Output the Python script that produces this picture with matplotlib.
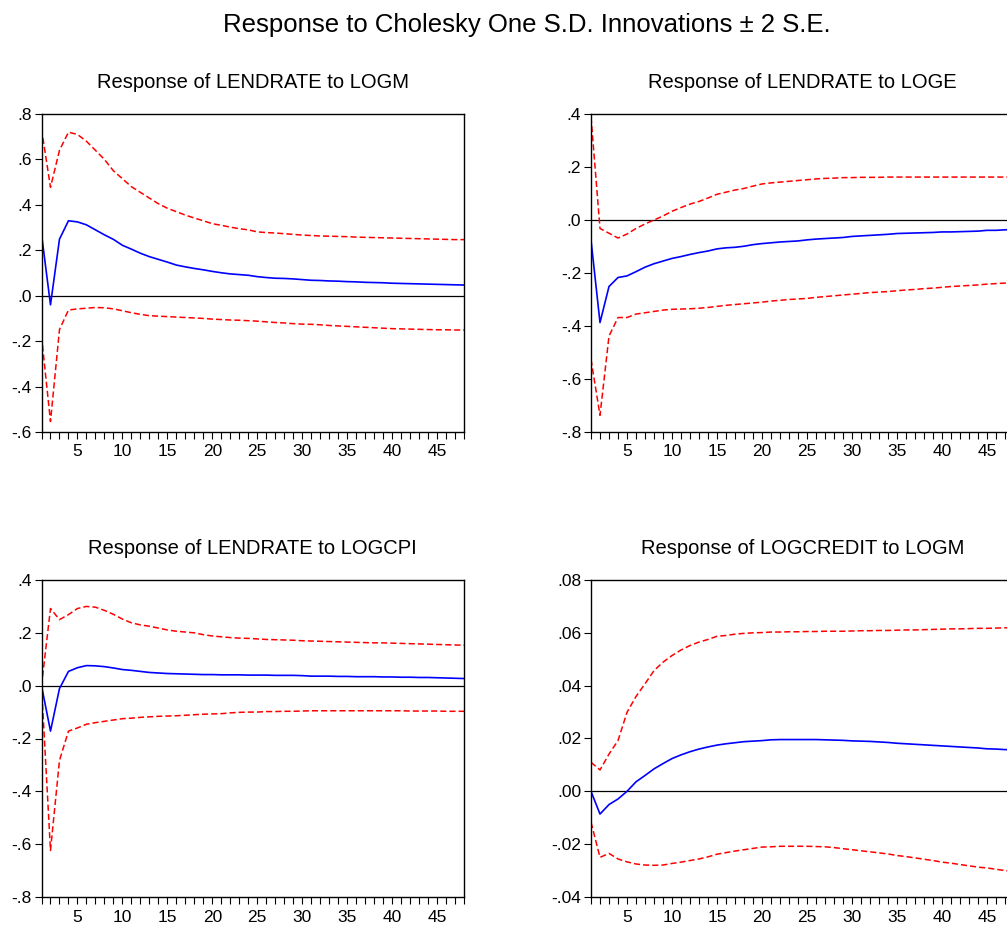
import numpy as np
import matplotlib
matplotlib.use("Agg")
import matplotlib.pyplot as plt
from matplotlib.ticker import FuncFormatter, MultipleLocator

plt.rcParams['font.family'] = ['Liberation Sans', 'DejaVu Sans']

periods = np.arange(1, 49)

# Response of LENDRATE to LOGM
m_resp = [0.271, -0.04, 0.249, 0.33, 0.325, 0.312, 0.29, 0.268, 0.248, 0.222,
          0.205, 0.187, 0.172, 0.16, 0.148, 0.135, 0.127, 0.12, 0.114, 0.107,
          0.101, 0.096, 0.093, 0.09, 0.084, 0.08, 0.077, 0.076, 0.074, 0.071,
          0.068, 0.067, 0.065, 0.064, 0.062, 0.061, 0.059, 0.058, 0.057, 0.055,
          0.054, 0.053, 0.052, 0.051, 0.05, 0.049, 0.048, 0.047]
m_up = [0.735, 0.477, 0.64, 0.72, 0.71, 0.68, 0.64, 0.6, 0.55, 0.515,
        0.48, 0.455, 0.43, 0.405, 0.385, 0.37, 0.355, 0.342, 0.33, 0.317,
        0.31, 0.302, 0.295, 0.29, 0.281, 0.278, 0.276, 0.273, 0.27, 0.267,
        0.265, 0.263, 0.262, 0.261, 0.26, 0.258, 0.257, 0.256, 0.255, 0.254,
        0.253, 0.252, 0.251, 0.25, 0.249, 0.248, 0.247, 0.247]
m_lo = [-0.178, -0.554, -0.149, -0.063, -0.058, -0.055, -0.052, -0.053, -0.058, -0.066,
        -0.075, -0.082, -0.088, -0.09, -0.092, -0.094, -0.096, -0.098, -0.1, -0.103,
        -0.105, -0.107, -0.108, -0.11, -0.112, -0.115, -0.118, -0.12, -0.123, -0.125,
        -0.126, -0.128, -0.131, -0.133, -0.135, -0.137, -0.139, -0.141, -0.143, -0.145,
        -0.146, -0.147, -0.148, -0.149, -0.15, -0.15, -0.151, -0.151]

# Response of LENDRATE to LOGE
e_resp = [-0.076, -0.387, -0.251, -0.217, -0.211, -0.195, -0.178, -0.165, -0.155, -0.145,
          -0.138, -0.13, -0.123, -0.117, -0.109, -0.105, -0.103, -0.099, -0.093, -0.089,
          -0.086, -0.083, -0.081, -0.079, -0.075, -0.072, -0.07, -0.068, -0.066, -0.062,
          -0.06, -0.058, -0.056, -0.054, -0.051, -0.05, -0.049, -0.048, -0.047, -0.045,
          -0.045, -0.044, -0.043, -0.042, -0.039, -0.039, -0.037, -0.036]
e_up = [0.389, -0.032, -0.05, -0.068, -0.053, -0.032, -0.015, 0.0, 0.015, 0.033,
        0.047, 0.06, 0.07, 0.083, 0.097, 0.105, 0.113, 0.119, 0.128, 0.136,
        0.14, 0.143, 0.146, 0.149, 0.152, 0.155, 0.157, 0.158, 0.16, 0.16,
        0.161, 0.161, 0.161, 0.162, 0.162, 0.162, 0.162, 0.162, 0.162, 0.162,
        0.162, 0.162, 0.162, 0.162, 0.162, 0.162, 0.162, 0.162]
e_lo = [-0.526, -0.737, -0.438, -0.368, -0.368, -0.355, -0.35, -0.345, -0.34, -0.337,
        -0.336, -0.335, -0.333, -0.33, -0.326, -0.322, -0.319, -0.316, -0.313, -0.31,
        -0.306, -0.303, -0.3, -0.298, -0.296, -0.292, -0.289, -0.286, -0.283, -0.28,
        -0.277, -0.274, -0.272, -0.27, -0.267, -0.264, -0.262, -0.259, -0.257, -0.254,
        -0.251, -0.249, -0.247, -0.245, -0.242, -0.24, -0.238, -0.236]

# Response of LENDRATE to LOGCPI
c_resp = [0.0, -0.172, -0.011, 0.054, 0.068, 0.076, 0.075, 0.072, 0.067, 0.061,
          0.058, 0.054, 0.05, 0.048, 0.046, 0.045, 0.044, 0.043, 0.042, 0.042,
          0.041, 0.041, 0.041, 0.04, 0.04, 0.04, 0.039, 0.039, 0.039, 0.038,
          0.036, 0.036, 0.036, 0.035, 0.035, 0.034, 0.034, 0.034, 0.033, 0.033,
          0.032, 0.032, 0.031, 0.031, 0.03, 0.029, 0.028, 0.027]
c_up = [0.0, 0.292, 0.25, 0.269, 0.292, 0.3, 0.297, 0.285, 0.27, 0.252,
        0.238, 0.23, 0.225, 0.218, 0.211, 0.206, 0.203, 0.2, 0.193, 0.188,
        0.185, 0.182, 0.18, 0.179, 0.177, 0.175, 0.174, 0.173, 0.172, 0.17,
        0.169, 0.168, 0.167, 0.166, 0.165, 0.164, 0.163, 0.162, 0.162, 0.161,
        0.16, 0.159, 0.158, 0.157, 0.156, 0.155, 0.154, 0.153]
c_lo = [0.0, -0.624, -0.283, -0.172, -0.16, -0.146, -0.14, -0.135, -0.13, -0.125,
        -0.123, -0.12, -0.118, -0.116, -0.115, -0.114, -0.112, -0.11, -0.108, -0.107,
        -0.106, -0.103, -0.101, -0.1, -0.1, -0.098, -0.098, -0.097, -0.097, -0.096,
        -0.095, -0.095, -0.095, -0.095, -0.095, -0.095, -0.095, -0.095, -0.095, -0.095,
        -0.095, -0.096, -0.096, -0.096, -0.096, -0.097, -0.097, -0.097]

# Response of LOGCREDIT to LOGM
cr_resp = [0.0, -0.0086, -0.005, -0.0029, 0.0, 0.0036, 0.006, 0.0085, 0.0105, 0.0124,
           0.0138, 0.015, 0.016, 0.0168, 0.0175, 0.018, 0.0184, 0.0188, 0.019, 0.0192,
           0.0195, 0.0196, 0.0196, 0.0196, 0.0196, 0.0196, 0.0195, 0.0194, 0.0193, 0.0191,
           0.019, 0.0189, 0.0187, 0.0185, 0.0182, 0.018, 0.0178, 0.0176, 0.0174, 0.0172,
           0.017, 0.0168, 0.0166, 0.0164, 0.0161, 0.016, 0.0158, 0.0157]
cr_up = [0.011, 0.0081, 0.0141, 0.0192, 0.0299, 0.0359, 0.0407, 0.0457, 0.0489, 0.0514,
         0.0535, 0.0552, 0.0565, 0.0575, 0.0587, 0.059, 0.0595, 0.0598, 0.06, 0.0601,
         0.0603, 0.0603, 0.0604, 0.0604, 0.0605, 0.0605, 0.0606, 0.0606, 0.0606, 0.0607,
         0.0608, 0.0608, 0.0609, 0.0609, 0.061, 0.0611, 0.0611, 0.0612, 0.0613, 0.0614,
         0.0615, 0.0615, 0.0616, 0.0617, 0.0617, 0.0618, 0.0619, 0.062]
cr_lo = [-0.0117, -0.025, -0.0235, -0.0256, -0.0267, -0.0275, -0.0279, -0.028, -0.0279, -0.0273,
         -0.0268, -0.0262, -0.0256, -0.0248, -0.0238, -0.0232, -0.0226, -0.0221, -0.0216, -0.0211,
         -0.021, -0.0208, -0.0208, -0.0208, -0.0208, -0.0209, -0.021, -0.0213, -0.0217, -0.0221,
         -0.0225, -0.0229, -0.0233, -0.0237, -0.0243, -0.0247, -0.0252, -0.0257, -0.0262, -0.0268,
         -0.0272, -0.0277, -0.0282, -0.0287, -0.0290, -0.0295, -0.0300, -0.0304]

panels = [
    ("Response of LENDRATE to LOGM", m_resp, m_up, m_lo, (-0.6, 0.8), 0.2, 1),
    ("Response of LENDRATE to LOGE", e_resp, e_up, e_lo, (-0.8, 0.4), 0.2, 1),
    ("Response of LENDRATE to LOGCPI", c_resp, c_up, c_lo, (-0.8, 0.4), 0.2, 1),
    ("Response of LOGCREDIT to LOGM", cr_resp, cr_up, cr_lo, (-0.04, 0.08), 0.02, 2),
]

# axes boxes in pixels (left, top, right, bottom); right column runs off the page like the original
W, H = 1007, 925
boxes = [(41.5, 114, 464, 432), (591, 114, 1014, 432),
         (41.5, 580, 464, 897), (591, 580, 1014, 897)]


def dot_fmt(dec):
    def f(v, pos):
        s = f"{v:.{dec}f}"
        s = s.replace("0.", ".", 1)
        if s.startswith("-") and float(s) == 0:
            s = s[1:]
        return s
    return f


fig = plt.figure(figsize=(W / 100, H / 100), dpi=100)
fig.text(527 / W, 1 - 32 / H, "Response to Cholesky One S.D. Innovations \u00b1 2 S.E.",
         ha="center", va="baseline", fontsize=18.5)

for (title, resp, up, lo, ylim, step, dec), (l, t, r, b) in zip(panels, boxes):
    ax = fig.add_axes([l / W, 1 - b / H, (r - l) / W, (b - t) / H])
    ax.axhline(0, color="black", lw=0.9, zorder=1)
    ax.plot(periods, up, color="red", ls=(0, (4, 2)), lw=1.1)
    ax.plot(periods, lo, color="red", ls=(0, (4, 2)), lw=1.1)
    ax.plot(periods, resp, color="blue", lw=1.2)
    ax.set_xlim(1, 48)
    ax.set_ylim(*ylim)
    ax.yaxis.set_major_locator(MultipleLocator(step))
    ax.yaxis.set_major_formatter(FuncFormatter(dot_fmt(dec)))
    ax.set_xticks(range(5, 48, 5))
    ax.set_xticks(range(1, 49), minor=True)
    ax.tick_params(axis="x", which="both", direction="out", length=5, width=0.8, labelsize=12.5, pad=4)
    ax.tick_params(axis="y", direction="out", length=5, width=0.8, labelsize=12.5, pad=2)
    for sp in ax.spines.values():
        sp.set_linewidth(1.0)
    ax.set_title(title, fontsize=14.5, pad=19)

fig.savefig("out.png", dpi=100)
